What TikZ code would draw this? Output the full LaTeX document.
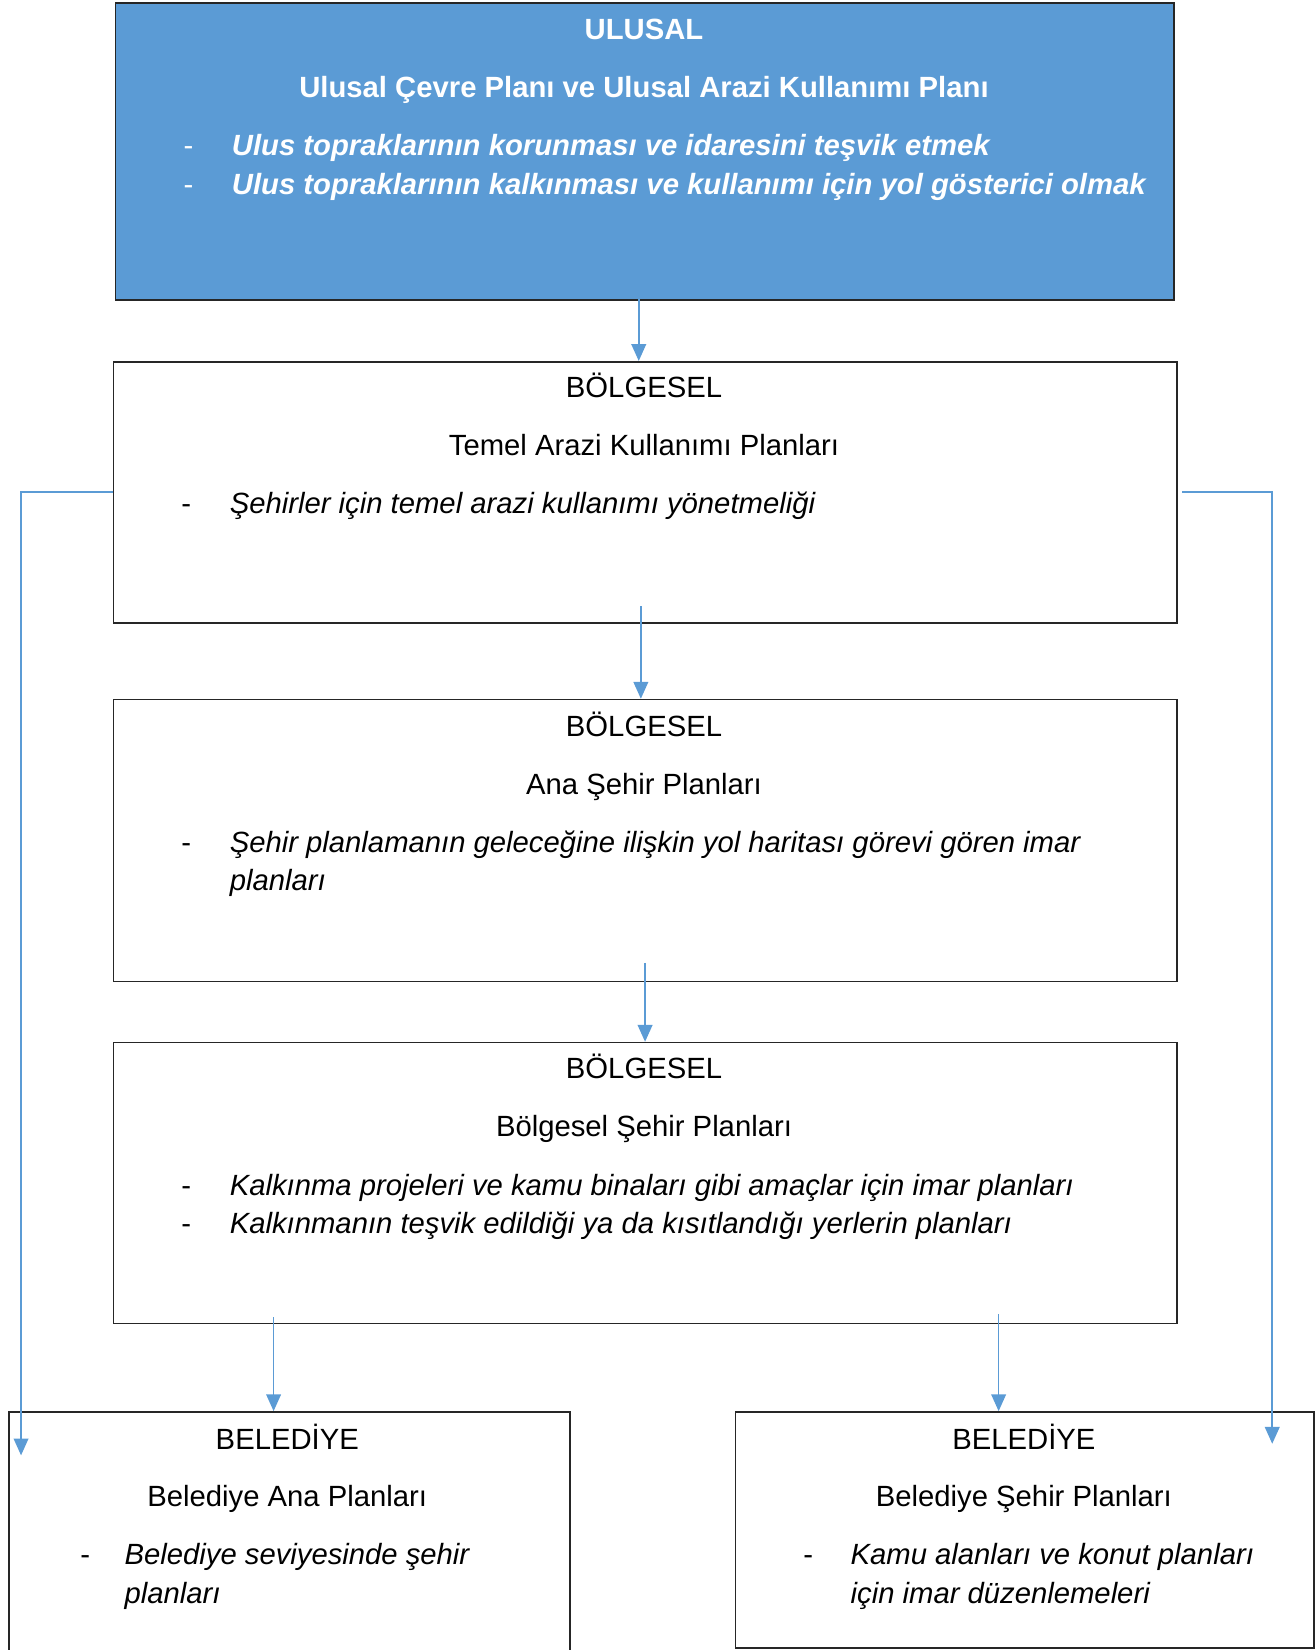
\documentclass[tikz,border=0pt]{standalone}
\usepackage{fontspec}
\setmainfont{Liberation Sans}
\usetikzlibrary{arrows.meta}
\definecolor{ublue}{HTML}{5B9BD5}
\begin{document}
\begin{tikzpicture}[x=0.5pt,y=-0.5pt,
  font=\fontsize{13.9pt}{18pt}\selectfont,
  box/.style={draw=black!85,line width=0.8pt,rectangle,anchor=north west,inner sep=0pt},
  ctr/.style={anchor=base,inner sep=0pt},
  lft/.style={anchor=base west,inner sep=0pt},
  arr/.style={draw=ublue,line width=0.75pt,-{Triangle[width=7pt,length=8pt]}},
  wt/.style={text=white}]
\useasboundingbox (0,0) rectangle (1250,1568);
% boxes
\node[box,fill=ublue,minimum width=503pt,minimum height=141pt] (b1) at (109,2) {};
\node[box,minimum width=505.5pt,minimum height=124pt] (b2) at (107,343) {};
\node[box,minimum width=505.5pt,minimum height=134pt] (b3) at (107,664) {};
\node[box,minimum width=505.5pt,minimum height=133.5pt] (b4) at (107,990) {};
\node[box,minimum width=266.5pt,minimum height=117pt] (b5) at (8,1341) {};
\node[box,minimum width=275pt,minimum height=112pt] (b6) at (698,1341) {};
% box 1 texts
\node[ctr,wt] (t11) at (612,38) {\bfseries ULUSAL};
\node[ctr,wt] (t12) at (612,93) {\bfseries Ulusal Çevre Planı ve Ulusal Arazi Kullanımı Planı};
\node[lft,wt] (d13) at (174,148) {-};
\node[lft,wt] (t13) at (220,148) {\bfseries\itshape Ulus topraklarının korunması ve idaresini teşvik etmek};
\node[lft,wt] (d14) at (174,185) {-};
\node[lft,wt] (t14) at (220,185) {\bfseries\itshape Ulus topraklarının kalkınması ve kullanımı için yol gösterici olmak};
% box 2 texts
\node[ctr] (t21) at (612,378) {BÖLGESEL};
\node[ctr] (t22) at (612,433) {Temel Arazi Kullanımı Planları};
\node[lft] (d23) at (172,488) {-};
\node[lft] (t23) at (218,488) {\itshape Şehirler için temel arazi kullanımı yönetmeliği};
% box 3 texts
\node[ctr] (t31) at (612,700) {BÖLGESEL};
\node[ctr] (t32) at (612,755) {Ana Şehir Planları};
\node[lft] (d33) at (172,810) {-};
\node[lft] (t33) at (218,810) {\itshape Şehir planlamanın geleceğine ilişkin yol haritası görevi gören imar};
\node[lft] (t34) at (218,846) {\itshape planları};
% box 4 texts
\node[ctr] (t41) at (612,1025) {BÖLGESEL};
\node[ctr] (t42) at (612,1080) {Bölgesel Şehir Planları};
\node[lft] (d43) at (172,1136) {-};
\node[lft] (t43) at (218,1136) {\itshape Kalkınma projeleri ve kamu binaları gibi amaçlar için imar planları};
\node[lft] (d44) at (172,1172) {-};
\node[lft] (t44) at (218,1172) {\itshape Kalkınmanın teşvik edildiği ya da kısıtlandığı yerlerin planları};
% box 5 texts
\node[ctr] (t51) at (273,1377) {BELEDİYE};
\node[ctr] (t52) at (273,1432) {Belediye Ana Planları};
\node[lft] (d53) at (76,1487) {-};
\node[lft] (t53) at (118,1487) {\itshape Belediye seviyesinde şehir};
\node[lft] (t54) at (118,1524) {\itshape planları};
% box 6 texts
\node[ctr] (t61) at (973,1377) {BELEDİYE};
\node[ctr] (t62) at (973,1432) {Belediye Şehir Planları};
\node[lft] (d63) at (763,1487) {-};
\node[lft] (t63) at (808,1487) {\itshape Kamu alanları ve konut planları};
\node[lft] (t64) at (808,1524) {\itshape için imar düzenlemeleri};
% connector anchors
\coordinate (s1) at (607,284);
\coordinate (s2) at (609,576);
\coordinate (s3) at (613,915);
\coordinate (s4l) at (260,1252);
\coordinate (s4r) at (949,1249);
\coordinate (lt) at (20,1383);
\coordinate (rt) at (1209,1372);
% connectors
\draw[arr] (s1) -- (b2.north -| s1);
\draw[arr] (s2) -- (b3.north -| s2);
\draw[arr] (s3) -- (b4.north -| s3);
\draw[arr] (s4l) -- (b5.north -| s4l);
\draw[arr] (s4r) -- (b6.north -| s4r);
\draw[arr] (b2.west) -| (lt);
\draw[arr] ([xshift=2pt]b2.east) -| (rt);
\end{tikzpicture}
\end{document}
